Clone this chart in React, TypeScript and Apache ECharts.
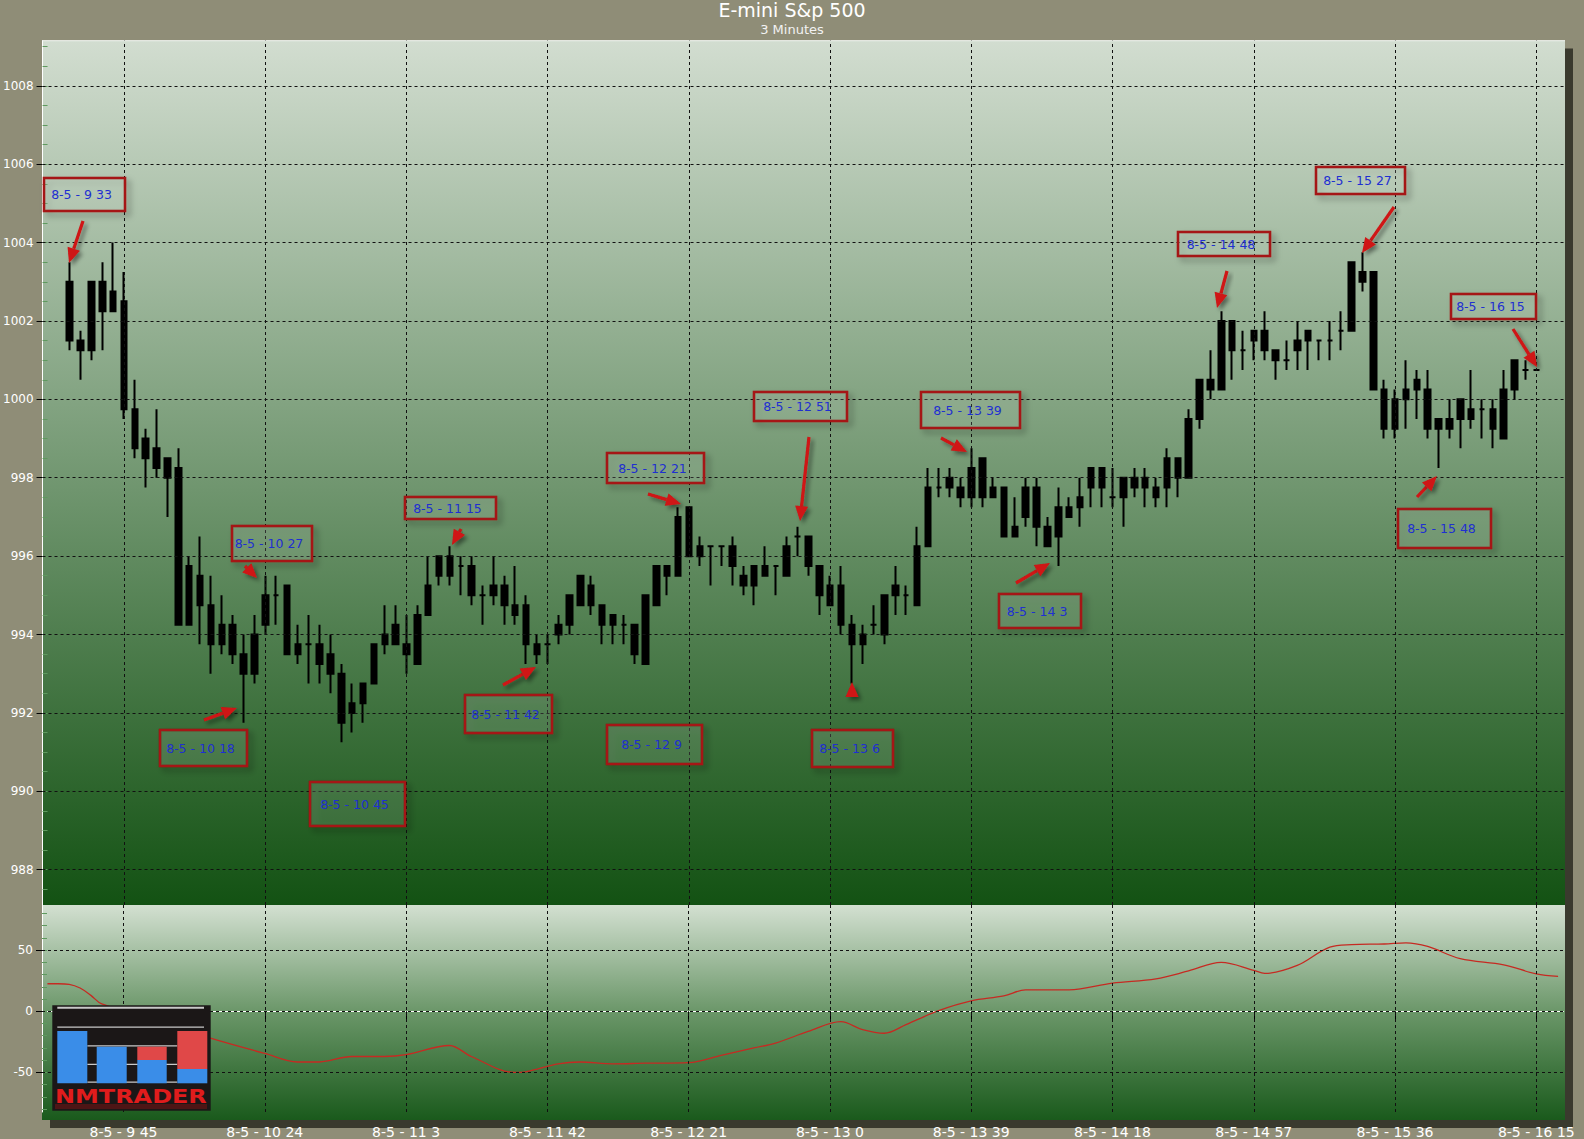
import React, { useEffect, useRef } from "react";
import * as echarts from "echarts";

// ---------------- DATA ----------------
const TITLE = "E-mini S&p 500";
const SUBTITLE = "3 Minutes";
const DATE_PREFIX = "8-5 - ";
const FIRST_BAR_HOUR = 9;
const FIRST_BAR_MINUTE = 30;
const BAR_MINUTES = 3;

const opens = [
  1003.0, 1001.5, 1001.25, 1003.0, 1002.25, 1002.5, 999.75, 999.0, 998.75, 998.5,
  998.25, 995.75, 995.5, 994.75, 994.25, 994.25, 993.5, 993.0, 994.25, 995.0,
  995.25, 993.75, 993.75, 993.75, 993.5, 993.0, 992.25, 992.75, 992.75, 993.75,
  993.75, 993.75, 993.25, 994.5, 995.5, 996.0, 995.75, 995.75, 995.0, 995.0,
  995.25, 994.75, 994.75, 993.75, 993.75, 994.0, 994.25, 994.75, 995.25, 994.75,
  994.5, 994.25, 994.25, 993.25, 994.75, 995.75, 995.5, 997.25, 996.25, 996.25,
  996.25, 996.25, 995.5, 995.75, 995.5, 995.75, 995.5, 996.5, 996.5, 995.75,
  995.25, 995.25, 994.25, 993.75, 994.25, 994.0, 995.0, 995.0, 994.75, 996.25,
  997.75, 997.75, 997.75, 997.5, 998.5, 997.5, 997.75, 996.5, 997.0, 997.75,
  996.75, 996.5, 997.0, 997.25, 997.75, 998.25, 997.5, 997.5, 998.0, 997.75,
  997.75, 997.75, 998.5, 998.0, 999.5, 1000.25, 1000.25, 1002.0, 1001.25, 1001.5,
  1001.75, 1001.25, 1001.0, 1001.25, 1001.5, 1001.5, 1001.5, 1001.75, 1001.75, 1003.25,
  1003.25, 1000.25, 999.25, 1000.0, 1000.25, 1000.25, 999.5, 999.25, 999.5, 999.75,
  999.75, 999.75, 999.0, 1000.25, 1000.75, 1000.75,
];
const closes = [
  1001.5, 1001.25, 1003.0, 1002.25, 1002.75, 999.75, 998.75, 998.5, 998.25, 998.0,
  994.25, 994.25, 994.75, 993.75, 993.75, 993.5, 993.0, 994.0, 995.0, 995.0,
  993.5, 993.5, 993.75, 993.25, 993.0, 991.75, 992.0, 992.25, 993.75, 994.0,
  994.25, 993.5, 994.5, 995.25, 996.0, 995.5, 995.75, 995.0, 995.0, 995.25,
  994.75, 994.5, 993.75, 993.5, 993.75, 994.25, 995.0, 995.5, 994.75, 994.25,
  994.25, 994.25, 993.5, 995.0, 995.75, 995.5, 997.0, 996.0, 996.0, 996.25,
  996.25, 995.75, 995.25, 995.25, 995.75, 995.75, 996.25, 996.5, 995.75, 995.0,
  994.75, 994.25, 993.75, 994.0, 994.25, 995.0, 995.25, 995.0, 996.25, 997.75,
  997.75, 998.0, 997.5, 998.25, 997.5, 997.75, 996.5, 996.75, 997.75, 996.75,
  996.25, 997.25, 997.25, 997.5, 998.25, 997.75, 997.5, 998.0, 997.75, 998.0,
  997.5, 998.5, 998.0, 999.5, 1000.5, 1000.5, 1002.0, 1001.25, 1001.25, 1001.75,
  1001.25, 1001.0, 1001.0, 1001.5, 1001.75, 1001.5, 1001.5, 1001.75, 1003.5, 1003.0,
  1000.25, 999.25, 1000.0, 1000.25, 1000.5, 999.25, 999.25, 999.5, 1000.0, 999.5,
  999.75, 999.25, 1000.25, 1001.0, 1000.75, 1000.75,
];
const lows = [
  1001.25, 1000.5, 1001.0, 1001.25, 1002.25, 999.5, 998.5, 997.75, 998.0, 997.0,
  994.25, 994.25, 993.75, 993.0, 993.5, 993.25, 991.75, 992.75, 994.0, 994.25,
  993.5, 993.25, 992.75, 992.75, 992.5, 991.25, 991.5, 991.75, 992.75, 993.5,
  993.75, 993.0, 993.25, 994.5, 995.25, 995.25, 995.0, 994.75, 994.25, 994.75,
  994.25, 994.25, 993.25, 993.25, 993.25, 993.75, 994.0, 994.75, 994.5, 993.75,
  993.75, 993.75, 993.25, 993.25, 994.75, 995.0, 995.5, 996.0, 995.75, 995.25,
  995.75, 995.25, 995.0, 994.75, 995.5, 995.0, 995.5, 996.0, 995.5, 994.5,
  994.75, 994.0, 992.75, 993.25, 994.0, 993.75, 994.5, 994.5, 994.75, 996.25,
  997.5, 997.5, 997.25, 997.25, 997.25, 997.5, 996.5, 996.5, 996.75, 996.25,
  996.25, 995.75, 997.0, 996.75, 997.25, 997.25, 997.25, 996.75, 997.5, 997.25,
  997.25, 997.25, 997.5, 998.0, 999.25, 1000.0, 1000.25, 1000.5, 1000.75, 1001.0,
  1001.0, 1000.5, 1000.75, 1000.75, 1000.75, 1001.0, 1001.0, 1001.25, 1001.75, 1002.75,
  1000.25, 999.0, 999.0, 999.25, 999.5, 999.0, 998.25, 999.0, 998.75, 999.25,
  999.0, 998.75, 999.0, 1000.0, 1000.5, 1000.75,
];
const highs = [
  1003.5, 1001.75, 1003.0, 1003.5, 1004.0, 1003.25, 1000.5, 999.25, 999.75, 998.5,
  998.75, 996.0, 996.5, 995.5, 995.0, 994.5, 994.0, 994.5, 995.5, 995.5,
  995.25, 994.25, 994.5, 994.25, 994.0, 993.25, 992.75, 992.75, 993.75, 994.75,
  994.75, 994.5, 994.75, 996.0, 996.0, 996.25, 996.0, 996.0, 995.25, 996.0,
  995.5, 995.75, 995.0, 994.0, 994.0, 994.5, 995.0, 995.5, 995.5, 994.75,
  994.5, 994.5, 994.25, 995.0, 995.75, 995.75, 997.25, 997.25, 996.5, 996.25,
  996.25, 996.5, 995.75, 995.75, 996.25, 995.75, 996.5, 996.75, 996.5, 995.75,
  995.5, 995.75, 994.5, 994.25, 994.75, 995.0, 995.75, 995.25, 996.75, 998.25,
  998.25, 998.25, 998.0, 998.75, 998.5, 998.0, 997.75, 997.5, 998.0, 998.0,
  997.0, 997.75, 997.5, 998.0, 998.25, 998.25, 998.25, 998.0, 998.25, 998.25,
  998.0, 998.75, 998.5, 999.75, 1000.5, 1001.25, 1002.25, 1002.0, 1001.75, 1001.75,
  1002.25, 1001.25, 1001.5, 1002.0, 1001.75, 1001.5, 1002.0, 1002.25, 1003.5, 1003.75,
  1003.25, 1000.5, 1000.25, 1001.0, 1000.75, 1000.75, 999.5, 1000.0, 1000.0, 1000.75,
  1000.0, 1000.0, 1000.75, 1001.0, 1001.0, 1000.75,
];

// oscillator (lower pane) read at these category positions (padding included)
const oscIndex = [
  0, 1, 2, 3, 4, 5, 15, 20, 23, 25, 28, 31, 33, 37, 39, 43, 44, 47, 49, 52, 55, 59, 62, 65, 67,
  70, 73, 75, 77, 79, 82, 85, 88, 90, 94, 98, 102, 105, 108, 111, 112, 115, 118, 120, 123, 125,
  127, 130, 134, 137, 139,
];
const oscValue = [
  22.5, 22.5, 22, 19, 13, 6, -22, -34.5, -41.5, -41.5, -37, -37, -35.5, -28, -37, -50, -49.5,
  -43, -41.5, -43, -42.5, -42, -36, -30, -26, -16.5, -8.5, -15, -18, -11, 0.5, 8.5, 12.5, 17.5,
  17.5, 23, 26.5, 33, 40, 33.5, 31, 37.5, 52.5, 54.5, 55, 56, 53, 43, 38, 30.5, 28.5,
];

const xTickLabels = [
  "8-5 - 9 45", "8-5 - 10 24", "8-5 - 11 3", "8-5 - 11 42", "8-5 - 12 21", "8-5 - 13 0",
  "8-5 - 13 39", "8-5 - 14 18", "8-5 - 14 57", "8-5 - 15 36", "8-5 - 16 15",
];
const priceTicks = [988, 990, 992, 994, 996, 998, 1000, 1002, 1004, 1006, 1008];
const oscTicks = [-50, 0, 50];

const annotationTexts = [
  "8-5 - 9 33", "8-5 - 10 18", "8-5 - 10 27", "8-5 - 10 45", "8-5 - 11 15", "8-5 - 11 42",
  "8-5 - 12 9", "8-5 - 12 21", "8-5 - 12 51", "8-5 - 13 6", "8-5 - 13 39", "8-5 - 14 3",
  "8-5 - 14 48", "8-5 - 15 27", "8-5 - 15 48", "8-5 - 16 15",
];

// ---------------- LAYOUT (pixels) ----------------
const W = 1584;
const H = 1139;
const PANEL_L = 42;
const PANEL_W = 1523;
const MAIN_TOP = 40.7;
const MAIN_BOTTOM = 905;
const LOW_BOTTOM = 1120;
const GRID_LEFT = 42;
const GRID_WIDTH = 1521.5;
const PRICE_MIN = 987.1;
const PRICE_MAX = 1009.15;
const OSC_MIN = -82.4;
const OSC_MAX = 86.9;

// box: [x, y, w, h]; arrow: [tailX, tailY, tipX, tipY]
const annotationLayout: { box: number[]; arrow: number[] | null }[] = [
  { box: [44, 178, 81, 33], arrow: [83, 221, 69, 263] },
  { box: [160, 730, 87, 36], arrow: [204, 720, 237, 708] },
  { box: [232, 526, 80, 35], arrow: [245, 566, 257, 578] },
  { box: [310, 782, 95, 44], arrow: null },
  { box: [405, 497, 91, 22], arrow: [461, 529, 452, 545] },
  { box: [465, 695, 87, 38], arrow: [503, 685, 536, 667] },
  { box: [607, 725, 95, 39], arrow: null },
  { box: [607, 453, 97, 30], arrow: [648, 494, 681, 504] },
  { box: [754, 392, 93, 29], arrow: [809, 437, 800, 521] },
  { box: [812, 730, 81, 37], arrow: [852, 718, 852, 682] },
  { box: [921, 392, 99, 36], arrow: [941, 438, 967, 452] },
  { box: [999, 594, 82, 34], arrow: [1016, 583, 1050, 563] },
  { box: [1178, 232, 92, 24], arrow: [1227, 271, 1217, 308] },
  { box: [1316, 167, 89, 27], arrow: [1394, 207, 1362, 253] },
  { box: [1398, 509, 93, 39], arrow: [1417, 497, 1437, 476] },
  { box: [1451, 294, 85, 25], arrow: [1513, 329, 1537, 367] },
];

const STONE = "#8f8d77";
const FONT = '"DejaVu Sans", Verdana, sans-serif';

function buildOption() {
  const barCats = opens.map((_, b) => {
    const t = FIRST_BAR_HOUR * 60 + FIRST_BAR_MINUTE + b * BAR_MINUTES;
    return `${DATE_PREFIX}${Math.floor(t / 60)} ${t % 60}`;
  });
  const cats = ["pad-a", "pad-b", ...barCats, "pad-c", "pad-d"];
  const candleData: any[] = ["-", "-"];
  opens.forEach((o, i) => candleData.push([o, closes[i], lows[i], highs[i]]));
  candleData.push("-", "-");

  const oscData: (number | null)[] = cats.map(() => null);
  oscIndex.forEach((ix, k) => {
    oscData[ix] = oscValue[k];
  });

  const priceMinor: number[] = [];
  for (let v = 987.5; v <= 1009; v += 0.5) priceMinor.push(v);
  const oscMinor: number[] = [];
  for (let v = -80; v <= 80; v += 10) oscMinor.push(v);

  const tickSet = new Set(xTickLabels);
  const showTick = (_i: number, val: string) => tickSet.has(val);

  const gridLineStyle = { color: "#111", type: [3, 3] as any, width: 1 };
  const vLines = xTickLabels.map((l) => ({ xAxis: l }));

  const redArrow = "#cf1414";
  const shadow = {
    shadowBlur: 4,
    shadowColor: "rgba(0,0,0,0.45)",
    shadowOffsetX: 3,
    shadowOffsetY: 3,
  };

  const annEls: any[] = [];
  annotationLayout.forEach((a, k) => {
    const [bx, by, bw, bh] = a.box;
    annEls.push({
      type: "rect",
      z: 30,
      shape: { x: bx, y: by, width: bw, height: bh },
      style: {
        fill: "rgba(235,245,235,0.10)",
        stroke: "#a51616",
        lineWidth: 2.5,
        shadowBlur: 6,
        shadowColor: "rgba(0,0,0,0.35)",
        shadowOffsetX: 4,
        shadowOffsetY: 4,
      },
    });
    annEls.push({
      type: "text",
      z: 32,
      style: {
        text: annotationTexts[k],
        x: bx + bw / 2 - 3,
        y: by + bh / 2,
        textAlign: "center",
        align: "center",
        textVerticalAlign: "middle",
        verticalAlign: "middle",
        fill: "#1f2fd1",
        font: `12.5px ${FONT}`,
      },
    });
    if (a.arrow) {
      const [x1, y1, x2, y2] = a.arrow;
      const dx = x2 - x1;
      const dy = y2 - y1;
      const len = Math.hypot(dx, dy);
      const ux = dx / len;
      const uy = dy / len;
      const headLen = Math.min(15, len * 0.85);
      const headW = 6.5;
      const hx = x2 - ux * headLen;
      const hy = y2 - uy * headLen;
      const px = -uy;
      const py = ux;
      annEls.push({
        type: "line",
        z: 31,
        shape: { x1, y1, x2: hx, y2: hy },
        style: { stroke: redArrow, lineWidth: 3.2, ...shadow },
      });
      annEls.push({
        type: "polygon",
        z: 31,
        shape: {
          points: [
            [x2, y2],
            [hx + px * headW, hy + py * headW],
            [hx - px * headW, hy - py * headW],
          ],
        },
        style: { fill: redArrow, ...shadow },
      });
    }
  });

  const grad = (stops: [number, string][]) => ({
    type: "linear",
    x: 0,
    y: 0,
    x2: 0,
    y2: 1,
    colorStops: stops.map(([offset, color]) => ({ offset, color })),
  });

  const logoBlue = "#3a8de8";
  const logoRed = "#e04848";
  const logoLine = "#c8c8c8";
  const logoEls: any[] = [
    { type: "rect", z: 40, shape: { x: 52.3, y: 1005.3, width: 158.4, height: 105.4 }, style: { fill: "#1b1717" } },
    { type: "rect", z: 41, shape: { x: 57.3, y: 1006.8, width: 146.7, height: 2 }, style: { fill: logoLine } },
    { type: "rect", z: 41, shape: { x: 57.3, y: 1026.5, width: 146.7, height: 1.3 }, style: { fill: logoLine } },
    { type: "rect", z: 41, shape: { x: 87.3, y: 1045.2, width: 90, height: 1.3 }, style: { fill: logoLine } },
    { type: "rect", z: 41, shape: { x: 87.3, y: 1063.8, width: 90, height: 1.3 }, style: { fill: logoLine } },
    { type: "rect", z: 41, shape: { x: 87.3, y: 1081.5, width: 90, height: 1.3 }, style: { fill: logoLine } },
    { type: "rect", z: 42, shape: { x: 57.3, y: 1031, width: 30, height: 52.3 }, style: { fill: logoBlue } },
    { type: "rect", z: 42, shape: { x: 96.7, y: 1046.7, width: 30, height: 36.6 }, style: { fill: logoBlue } },
    { type: "rect", z: 42, shape: { x: 137.3, y: 1046.7, width: 29.4, height: 13.3 }, style: { fill: logoRed } },
    { type: "rect", z: 42, shape: { x: 137.3, y: 1060, width: 29.4, height: 23.3 }, style: { fill: logoBlue } },
    { type: "rect", z: 42, shape: { x: 177.3, y: 1031, width: 30, height: 38 }, style: { fill: logoRed } },
    { type: "rect", z: 42, shape: { x: 177.3, y: 1069, width: 30, height: 14.3 }, style: { fill: logoBlue } },
    {
      type: "text",
      z: 43,
      x: 55,
      y: 1096.5,
      scaleX: 1.26,
      style: {
        text: "NMTRADER",
        x: 0,
        y: 0,
        textAlign: "left",
        align: "left",
        textVerticalAlign: "middle",
        verticalAlign: "middle",
        fill: "#e01c1c",
        font: `bold 19px ${FONT}`,
      },
    },
    {
      type: "rect",
      z: 42,
      shape: { x: 55, y: 1104, width: 152, height: 5 },
      style: { fill: "rgba(140,20,20,0.45)" },
    },
  ];

  const bgEls: any[] = [
    { type: "rect", z: -20, shape: { x: 50, y: 48.5, width: PANEL_W, height: LOW_BOTTOM - 40.5 }, style: { fill: "rgba(35,35,25,0.78)" } },
    {
      type: "rect",
      z: -10,
      shape: { x: PANEL_L, y: MAIN_TOP, width: PANEL_W, height: MAIN_BOTTOM - MAIN_TOP },
      style: { fill: grad([[0, "#d2ddd0"], [0.5, "#739872"], [1, "#135213"]]) },
    },
    {
      type: "rect",
      z: -10,
      shape: { x: PANEL_L, y: MAIN_BOTTOM, width: PANEL_W, height: LOW_BOTTOM - MAIN_BOTTOM },
      style: { fill: grad([[0, "#d3e0d1"], [0.5, "#6a9668"], [1, "#1a5a1c"]]) },
    },
    {
      type: "line",
      z: 5,
      shape: { x1: PANEL_L, y1: MAIN_TOP, x2: PANEL_L + PANEL_W, y2: MAIN_TOP },
      style: { stroke: "#f4f8f4", lineWidth: 1 },
    },
  ];

  const plain = (v: number) => `${v}`;
  const yLabel = { color: "#ffffff", fontSize: 12, fontFamily: FONT, margin: 9, formatter: plain };
  const minorTickStyle = { color: "#5f9a5f", width: 1 };

  return {
    animation: false,
    backgroundColor: STONE,
    title: {
      text: TITLE,
      subtext: SUBTITLE,
      left: "center",
      top: 0,
      padding: 0,
      itemGap: 4,
      textStyle: { color: "#ffffff", fontSize: 19, fontWeight: "normal", fontFamily: FONT },
      subtextStyle: { color: "#f2f2f2", fontSize: 13, fontFamily: FONT },
    },
    grid: [
      { left: GRID_LEFT, top: MAIN_TOP, width: GRID_WIDTH, height: MAIN_BOTTOM - MAIN_TOP },
      { left: GRID_LEFT, top: MAIN_BOTTOM, width: GRID_WIDTH, height: LOW_BOTTOM - MAIN_BOTTOM },
    ],
    xAxis: [
      { type: "category", gridIndex: 0, data: cats, boundaryGap: true, show: false },
      {
        type: "category",
        gridIndex: 1,
        data: cats,
        boundaryGap: true,
        axisLine: { show: true, lineStyle: { color: "#ffffff", width: 1 } },
        axisTick: { show: true, interval: showTick, alignWithLabel: true, length: 8, lineStyle: { color: "#000" } },
        axisLabel: { interval: showTick, color: "#ffffff", fontSize: 14, fontFamily: FONT, margin: 13 },
        splitLine: { show: false },
      },
    ],
    yAxis: [
      {
        type: "value",
        gridIndex: 0,
        position: "left",
        min: PRICE_MIN,
        max: PRICE_MAX,
        axisLine: { show: true, lineStyle: { color: "#ffffff", width: 1 } },
        axisTick: { show: true, customValues: priceTicks, length: 6, lineStyle: { color: "#000" } },
        axisLabel: { ...yLabel, customValues: priceTicks },
        splitLine: { show: false },
      },
      {
        type: "value",
        gridIndex: 0,
        position: "left",
        min: PRICE_MIN,
        max: PRICE_MAX,
        axisLine: { show: false },
        axisLabel: { show: false },
        axisTick: { show: true, inside: true, length: 5, customValues: priceMinor, lineStyle: minorTickStyle },
        splitLine: { show: false },
      },
      {
        type: "value",
        gridIndex: 1,
        position: "left",
        min: OSC_MIN,
        max: OSC_MAX,
        axisLine: { show: true, lineStyle: { color: "#ffffff", width: 1 } },
        axisTick: { show: true, customValues: oscTicks, length: 6, lineStyle: { color: "#000" } },
        axisLabel: { ...yLabel, customValues: oscTicks },
        splitLine: { show: false },
      },
      {
        type: "value",
        gridIndex: 1,
        position: "left",
        min: OSC_MIN,
        max: OSC_MAX,
        axisLine: { show: false },
        axisLabel: { show: false },
        axisTick: { show: true, inside: true, length: 5, customValues: oscMinor, lineStyle: minorTickStyle },
        splitLine: { show: false },
      },
    ],
    series: [
      {
        type: "candlestick",
        name: "E-mini S&P 500",
        xAxisIndex: 0,
        yAxisIndex: 0,
        data: candleData,
        barWidth: 6,
        itemStyle: {
          color: "#000000",
          color0: "#000000",
          borderColor: "#000000",
          borderColor0: "#000000",
          borderWidth: 2,
        },
        markLine: {
          silent: true,
          symbol: ["none", "none"],
          label: { show: false },
          lineStyle: gridLineStyle,
          data: [...priceTicks.map((v) => ({ yAxis: v })), ...vLines],
        },
      },
      {
        type: "line",
        name: "Oscillator",
        xAxisIndex: 1,
        yAxisIndex: 2,
        data: oscData,
        connectNulls: true,
        smooth: 0.35,
        symbol: "none",
        lineStyle: { color: "#c62a22", width: 1.3 },
        markLine: {
          silent: true,
          symbol: ["none", "none"],
          label: { show: false },
          lineStyle: gridLineStyle,
          data: [...oscTicks.map((v) => ({ yAxis: v })), ...vLines],
        },
      },
    ],
    graphic: { elements: [...bgEls, ...annEls, ...logoEls] },
  };
}

export default function App() {
  const ref = useRef<HTMLDivElement>(null);
  useEffect(() => {
    document.body.style.margin = "0";
    document.body.style.overflow = "hidden";
    const chart = echarts.init(ref.current as HTMLDivElement, undefined, { renderer: "svg" });
    chart.setOption(buildOption() as any);
    return () => chart.dispose();
  }, []);
  return <div ref={ref} style={{ width: W, height: H, background: STONE }} />;
}
